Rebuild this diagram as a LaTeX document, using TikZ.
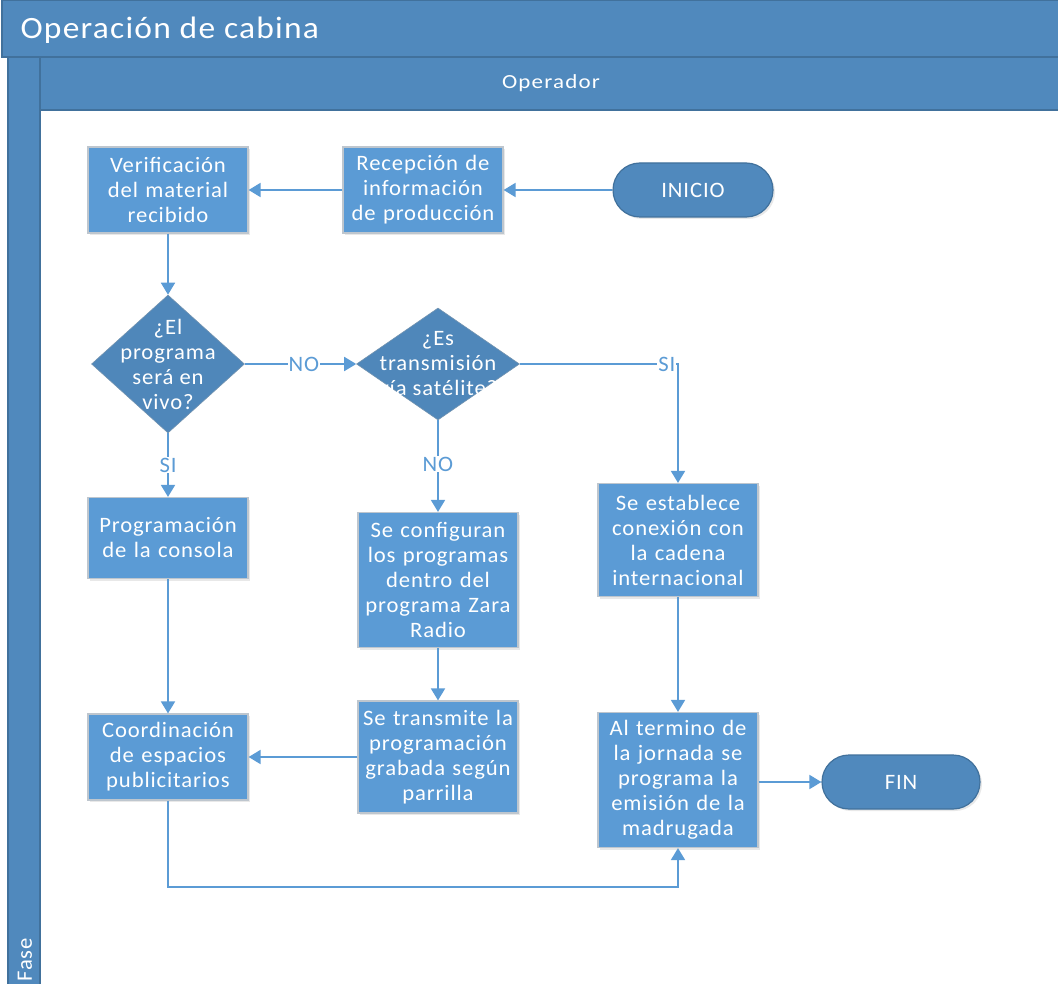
\documentclass[tikz,border=0pt]{standalone}
\usepackage{fontspec}
\setmainfont{Carlito}
\usetikzlibrary{arrows.meta,shapes.geometric,shapes.misc,shadows}
\definecolor{hdr}{RGB}{80,137,189}
\definecolor{hdrline}{RGB}{65,113,156}
\definecolor{boxfill}{RGB}{91,155,213}
\definecolor{boxline}{RGB}{190,198,206}
\definecolor{dia}{RGB}{79,135,186}
\definecolor{arr}{RGB}{91,155,213}
\newfontfamily\boxfont[LetterSpace=4,FakeStretch=1.03]{Carlito}
\newfontfamily\titlefont[LetterSpace=4,FakeStretch=1.08]{Carlito}
\newfontfamily\lanefont[LetterSpace=6,FakeStretch=1.15]{Carlito}
\tikzset{
  x=1pt,y=-1pt,
  boxtext/.style={font=\boxfont\fontsize{22}{25}\selectfont},
  procbox/.style={draw=boxline,line width=1.2pt,fill=boxfill,text=white,
    minimum width=160pt,inner sep=0pt,align=center,text width=158pt,boxtext,
    drop shadow={opacity=0.18,shadow xshift=2pt,shadow yshift=-2pt}},
  decision/.style={diamond,draw=hdrline!60!boxline,line width=0.6pt,fill=dia,inner sep=0pt},
  dtext/.style={text=white,align=center,boxtext},
  term/.style={rounded rectangle,draw=hdrline,line width=1.2pt,fill=hdr,text=white,
    minimum width=160pt,minimum height=54pt,inner sep=0pt,boxtext,
    drop shadow={opacity=0.18,shadow xshift=2pt,shadow yshift=-2pt}},
  conn/.style={draw=arr,line width=1.8pt,-{Triangle[width=14pt,length=12pt]}},
  lbl/.style={fill=white,text=arr,inner sep=1pt,font=\boxfont\fontsize{22}{24}\selectfont},
}
\begin{document}
\begin{tikzpicture}
\useasboundingbox (0,0) rectangle (1058,984);
\fill[white] (0,0) rectangle (1058,984);
% pool header
\draw[fill=hdr,draw=hdrline,line width=1.5pt] (2,0) rectangle (1060,57);
\node[anchor=west,text=white,font=\titlefont\fontsize{31}{34}\selectfont] (title) at (17,30) {Operación de cabina};
% left bar
\draw[fill=hdr,draw=hdrline,line width=1.2pt] (8,57) rectangle (40,990);
\node[rotate=90,anchor=west,text=white,font=\boxfont\fontsize{22}{24}\selectfont] (fase) at (25,985) {Fase};
% lane header
\draw[fill=hdr,draw=hdrline,line width=1.2pt] (40,57) rectangle (1062,110);
\node[text=white,font=\lanefont\fontsize{20}{24}\selectfont] (lane) at (551,83) {Operador};

% nodes
\node[procbox,minimum height=86pt] (ver) at (168,190) {Verificación\\del material\\recibido};
\node[procbox,minimum height=86pt] (rec) at (423,190) {Recepción de\\información\\de producción};
\node[term] (ini) at (693,190) {INICIO};
\node[decision,minimum width=153pt,minimum height=138pt] (d1) at (168,364) {};
\node[dtext] (d1t) at (d1.center) {¿El\\programa\\será en\\vivo?};
\node[decision,minimum width=163pt,minimum height=112pt] (d2) at (438,364) {};
\node[dtext] (d2t) at (438,364) {¿Es\\transmisión\\vía satélite?};
\node[procbox,minimum height=81pt] (prog) at (168,538) {Programación\\de la consola};
\node[procbox,minimum height=135pt] (conf) at (438,580) {Se configuran\\los programas\\dentro del\\programa Zara\\Radio};
\node[procbox,minimum height=113pt] (est) at (678,540) {Se establece\\conexión con\\la cadena\\internacional};
\node[procbox,minimum height=86pt] (coord) at (168,757) {Coordinación\\de espacios\\publicitarios};
\node[procbox,minimum height=112pt] (trans) at (438,757) {Se transmite la\\programación\\grabada según\\parrilla};
\node[procbox,minimum height=135pt] (alt) at (678,780) {Al termino de\\la jornada se\\programa la\\emisión de la\\madrugada};
\node[term,minimum width=158pt] (fin) at (901,782) {FIN};

\coordinate (c1) at (678,364);
\coordinate (c2) at (168,887);

% connectors
\draw[conn] (ini.west) -- (rec.east);
\draw[conn] (rec.west) -- (ver.east);
\draw[conn] (ver.south) -- (d1.north);
\draw[conn] (d1.south) -- node[lbl]{SI} (prog.north);
\draw[conn] (d1.east) -- node[lbl,pos=0.53]{NO} (d2.west);
\draw[conn] (d2.east) -- node[lbl,pos=0.93]{SI} (c1) -- (est.north);
\draw[conn] (d2.south) -- node[lbl,pos=0.48]{NO} (conf.north);
\draw[conn] (conf.south) -- (trans.north);
\draw[conn] (trans.west) -- (coord.east);
\draw[conn] (prog.south) -- (coord.north);
\draw[conn] (est.south) -- (alt.north);
\draw[conn] (coord.south) -- (c2) -| (alt.south);
\draw[conn] (alt.east |- fin.west) -- (fin.west);
\end{tikzpicture}
\end{document}
